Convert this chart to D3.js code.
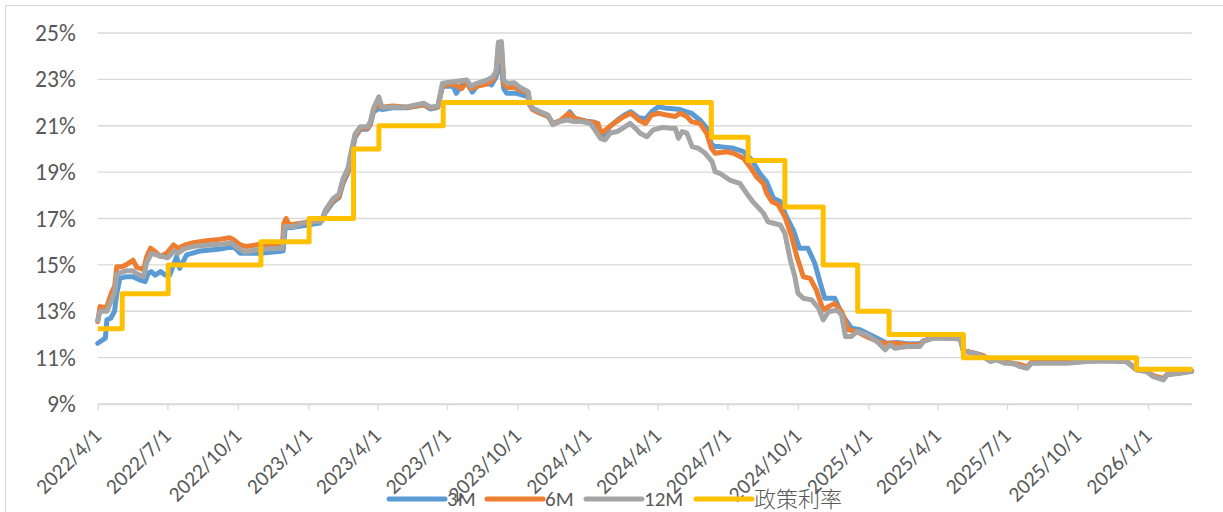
<!DOCTYPE html>
<html>
<head>
<meta charset="utf-8">
<script src="https://cdn.jsdelivr.net/npm/d3@7"></script>
<style>
  body { margin: 0; background: #fff; }
  svg { display: block; }
  .axis-text { font-family: Calibri, Carlito, Lato, sans-serif; fill: #595959; }
</style>
</head>
<body>
<div id="container1"></div>
<script>
// series values, [date, %]
const rate3M = [["2022-04-01",11.62],["2022-04-11",11.84],["2022-04-13",12.63],["2022-04-18",12.7],["2022-04-23",13.0],["2022-04-26",13.78],["2022-04-30",14.42],["2022-05-08",14.49],["2022-05-17",14.49],["2022-05-26",14.35],["2022-06-02",14.28],["2022-06-06",14.64],["2022-06-10",14.71],["2022-06-15",14.56],["2022-06-22",14.71],["2022-06-28",14.56],["2022-07-04",14.56],["2022-07-13",15.36],["2022-07-17",14.85],["2022-07-26",15.43],["2022-08-13",15.6],["2022-09-08",15.68],["2022-09-25",15.8],["2022-10-04",15.5],["2022-10-30",15.5],["2022-11-29",15.6],["2022-12-02",16.7],["2022-12-08",16.6],["2023-01-16",16.8],["2023-01-23",17.25],["2023-02-02",17.7],["2023-02-10",17.9],["2023-02-15",18.5],["2023-02-22",19.0],["2023-02-25",19.55],["2023-03-03",20.5],["2023-03-10",20.85],["2023-03-19",20.85],["2023-03-23",21.05],["2023-03-27",21.6],["2023-04-03",21.75],["2023-04-07",21.7],["2023-04-21",21.78],["2023-05-10",21.78],["2023-06-01",21.9],["2023-06-09",21.72],["2023-06-19",21.8],["2023-06-25",22.7],["2023-07-09",22.7],["2023-07-13",22.4],["2023-07-20",22.75],["2023-07-27",22.85],["2023-08-03",22.45],["2023-08-10",22.75],["2023-08-22",22.85],["2023-08-28",22.76],["2023-09-03",23.1],["2023-09-06",23.6],["2023-09-10",23.5],["2023-09-13",22.6],["2023-09-17",22.4],["2023-09-30",22.4],["2023-10-15",22.25],["2023-10-17",21.9],["2023-10-21",21.7],["2023-10-30",21.55],["2023-11-10",21.4],["2023-11-16",21.1],["2023-11-25",21.2],["2023-12-05",21.35],["2023-12-08",21.6],["2023-12-15",21.32],["2023-12-30",21.2],["2024-01-10",21.15],["2024-01-17",20.6],["2024-01-23",20.5],["2024-01-29",20.96],["2024-02-07",21.2],["2024-02-17",21.45],["2024-02-26",21.6],["2024-03-07",21.35],["2024-03-16",21.3],["2024-03-24",21.6],["2024-04-02",21.82],["2024-04-13",21.75],["2024-04-24",21.72],["2024-04-30",21.7],["2024-05-09",21.6],["2024-05-15",21.54],["2024-05-26",21.25],["2024-06-04",20.9],["2024-06-10",20.2],["2024-06-15",20.1],["2024-06-21",20.1],["2024-07-09",20.03],["2024-07-22",19.88],["2024-08-02",19.52],["2024-08-12",18.95],["2024-08-21",18.59],["2024-08-30",17.87],["2024-09-08",17.73],["2024-09-16",17.08],["2024-09-25",16.5],["2024-10-03",15.72],["2024-10-14",15.72],["2024-10-23",15.07],["2024-10-29",14.35],["2024-11-05",13.56],["2024-11-18",13.56],["2024-11-29",12.77],["2024-12-10",12.27],["2024-12-21",12.2],["2025-01-08",11.91],["2025-01-25",11.62],["2025-02-07",11.65],["2025-02-20",11.6],["2025-03-09",11.6],["2025-03-14",11.72],["2025-03-27",11.86],["2025-04-13",11.86],["2025-05-01",11.82],["2025-05-05",11.3],["2025-05-18",11.2],["2025-05-31",11.08],["2025-06-09",10.88],["2025-06-17",10.93],["2025-06-28",10.8],["2025-07-18",10.68],["2025-07-27",10.6],["2025-08-02",10.8],["2025-09-17",10.8],["2025-10-13",10.86],["2025-11-08",10.88],["2025-12-04",10.82],["2025-12-17",10.48],["2025-12-30",10.42],["2026-01-08",10.2],["2026-01-21",10.08],["2026-01-26",10.27],["2026-02-12",10.35],["2026-02-27",10.42]];

const rate6M = [["2022-04-01",12.55],["2022-04-04",13.2],["2022-04-11",13.15],["2022-04-14",13.3],["2022-04-19",13.8],["2022-04-23",14.06],["2022-04-26",14.92],["2022-05-02",14.92],["2022-05-08",15.0],["2022-05-17",15.2],["2022-05-22",14.9],["2022-05-31",14.8],["2022-06-04",15.36],["2022-06-09",15.72],["2022-06-15",15.57],["2022-06-22",15.36],["2022-06-30",15.5],["2022-07-09",15.86],["2022-07-15",15.72],["2022-07-24",15.86],["2022-08-04",15.96],["2022-08-21",16.04],["2022-09-07",16.1],["2022-09-20",16.17],["2022-09-25",16.1],["2022-10-04",15.86],["2022-10-12",15.79],["2022-10-30",15.89],["2022-11-21",15.86],["2022-11-28",15.86],["2022-11-30",16.8],["2022-12-03",17.0],["2022-12-07",16.72],["2022-12-22",16.8],["2023-01-03",16.86],["2023-01-18",16.9],["2023-01-23",17.3],["2023-02-02",17.78],["2023-02-10",17.95],["2023-02-15",18.6],["2023-02-22",19.1],["2023-02-25",19.65],["2023-03-03",20.55],["2023-03-10",20.9],["2023-03-19",20.9],["2023-03-23",21.1],["2023-03-27",21.68],["2023-04-03",21.95],["2023-04-07",21.8],["2023-04-21",21.85],["2023-05-10",21.8],["2023-06-01",21.9],["2023-06-09",21.78],["2023-06-19",21.82],["2023-06-25",22.75],["2023-07-09",22.8],["2023-07-20",22.6],["2023-07-27",22.9],["2023-08-01",22.6],["2023-08-09",22.7],["2023-08-22",22.8],["2023-08-30",23.0],["2023-09-03",23.3],["2023-09-06",24.4],["2023-09-10",24.4],["2023-09-13",22.8],["2023-09-18",22.65],["2023-09-27",22.65],["2023-10-04",22.55],["2023-10-15",22.4],["2023-10-17",21.9],["2023-10-21",21.7],["2023-10-30",21.55],["2023-11-10",21.4],["2023-11-16",21.1],["2023-11-25",21.2],["2023-12-07",21.54],["2023-12-15",21.32],["2023-12-30",21.18],["2024-01-14",21.1],["2024-01-18",20.67],["2024-01-29",20.96],["2024-02-07",21.18],["2024-02-17",21.4],["2024-02-26",21.54],["2024-03-07",21.25],["2024-03-16",21.1],["2024-03-24",21.46],["2024-04-02",21.54],["2024-04-13",21.46],["2024-04-24",21.4],["2024-04-30",21.54],["2024-05-09",21.4],["2024-05-15",21.18],["2024-05-26",21.1],["2024-06-04",20.67],["2024-06-10",20.03],["2024-06-15",19.81],["2024-06-30",19.88],["2024-07-09",19.81],["2024-07-22",19.6],["2024-07-31",19.2],["2024-08-08",18.8],["2024-08-17",18.5],["2024-08-21",18.1],["2024-08-28",17.73],["2024-09-05",17.6],["2024-09-14",17.08],["2024-09-23",16.2],["2024-09-29",15.43],["2024-10-08",14.49],["2024-10-17",14.42],["2024-10-25",13.92],["2024-11-03",13.05],["2024-11-10",13.2],["2024-11-18",13.34],["2024-11-27",12.98],["2024-12-06",12.2],["2024-12-17",12.12],["2025-01-03",11.84],["2025-01-20",11.62],["2025-02-07",11.62],["2025-02-20",11.55],["2025-03-09",11.55],["2025-03-14",11.72],["2025-03-27",11.86],["2025-04-13",11.86],["2025-05-01",11.82],["2025-05-05",11.3],["2025-05-18",11.2],["2025-05-31",11.08],["2025-06-09",10.9],["2025-06-17",10.95],["2025-06-28",10.82],["2025-07-18",10.7],["2025-07-27",10.6],["2025-08-02",10.8],["2025-09-17",10.8],["2025-10-13",10.86],["2025-11-08",10.88],["2025-12-04",10.85],["2025-12-17",10.5],["2025-12-30",10.42],["2026-01-08",10.22],["2026-01-21",10.1],["2026-01-26",10.28],["2026-02-12",10.35],["2026-02-27",10.42]];

const rate12M = [["2022-04-01",12.6],["2022-04-04",13.0],["2022-04-13",13.0],["2022-04-18",13.4],["2022-04-23",13.8],["2022-04-26",14.6],["2022-05-08",14.75],["2022-05-17",14.75],["2022-05-23",14.6],["2022-05-31",14.5],["2022-06-04",15.1],["2022-06-10",15.5],["2022-06-20",15.4],["2022-07-01",15.3],["2022-07-10",15.6],["2022-07-15",15.5],["2022-07-23",15.7],["2022-08-05",15.8],["2022-08-24",15.86],["2022-09-12",15.9],["2022-09-22",15.95],["2022-09-30",15.75],["2022-10-10",15.55],["2022-10-25",15.65],["2022-11-14",15.7],["2022-11-28",15.72],["2022-12-01",16.65],["2022-12-12",16.65],["2022-12-25",16.8],["2023-01-08",16.86],["2023-01-19",16.9],["2023-01-23",17.35],["2023-02-02",17.85],["2023-02-10",18.05],["2023-02-15",18.7],["2023-02-22",19.2],["2023-02-25",19.75],["2023-03-03",20.65],["2023-03-10",20.96],["2023-03-19",20.96],["2023-03-23",21.18],["2023-03-27",21.75],["2023-04-03",22.25],["2023-04-07",21.8],["2023-04-21",21.8],["2023-05-10",21.82],["2023-06-01",21.97],["2023-06-09",21.8],["2023-06-19",21.85],["2023-06-25",22.83],["2023-07-09",22.9],["2023-07-27",22.97],["2023-08-01",22.7],["2023-08-09",22.83],["2023-08-22",22.97],["2023-08-30",23.12],["2023-09-03",23.35],["2023-09-06",24.6],["2023-09-10",24.63],["2023-09-13",22.97],["2023-09-18",22.83],["2023-09-27",22.85],["2023-10-04",22.66],["2023-10-15",22.47],["2023-10-17",21.97],["2023-10-21",21.75],["2023-10-30",21.61],["2023-11-10",21.46],["2023-11-16",21.05],["2023-11-25",21.18],["2023-12-05",21.25],["2023-12-13",21.18],["2023-12-24",21.18],["2024-01-04",21.1],["2024-01-10",20.82],["2024-01-17",20.46],["2024-01-23",20.39],["2024-01-30",20.68],["2024-02-08",20.75],["2024-02-15",20.89],["2024-02-25",21.1],["2024-03-03",20.89],["2024-03-09",20.68],["2024-03-18",20.53],["2024-03-26",20.82],["2024-04-08",20.93],["2024-04-17",20.89],["2024-04-24",20.89],["2024-04-28",20.46],["2024-05-03",20.75],["2024-05-09",20.68],["2024-05-16",20.1],["2024-05-24",20.03],["2024-06-02",19.81],["2024-06-11",19.45],["2024-06-15",19.02],["2024-06-21",18.95],["2024-07-04",18.66],["2024-07-17",18.52],["2024-07-26",18.09],["2024-08-03",17.73],["2024-08-17",17.23],["2024-08-23",16.86],["2024-09-08",16.72],["2024-09-14",16.36],["2024-09-21",15.22],["2024-09-27",14.49],["2024-10-01",13.78],["2024-10-08",13.56],["2024-10-19",13.49],["2024-10-28",13.13],["2024-11-03",12.63],["2024-11-10",12.98],["2024-11-21",13.05],["2024-11-27",12.84],["2024-12-02",11.91],["2024-12-10",11.91],["2024-12-17",12.12],["2024-12-30",11.98],["2025-01-12",11.7],["2025-01-23",11.34],["2025-01-29",11.55],["2025-02-05",11.4],["2025-02-20",11.48],["2025-03-09",11.48],["2025-03-14",11.7],["2025-03-27",11.84],["2025-04-13",11.84],["2025-05-01",11.8],["2025-05-05",11.26],["2025-05-18",11.19],["2025-05-31",11.04],["2025-06-09",10.83],["2025-06-17",10.9],["2025-06-28",10.76],["2025-07-09",10.76],["2025-07-18",10.61],["2025-07-27",10.54],["2025-08-02",10.76],["2025-08-22",10.76],["2025-09-17",10.76],["2025-10-13",10.83],["2025-11-08",10.86],["2025-12-04",10.83],["2025-12-17",10.47],["2025-12-30",10.4],["2026-01-08",10.18],["2026-01-21",10.04],["2026-01-26",10.26],["2026-02-12",10.33],["2026-02-27",10.4]];

// policy rate: step changes
const policyDates = ["2022-04-01","2022-05-03","2022-07-02","2022-10-31","2023-01-02","2023-03-01","2023-04-03","2023-06-26","2024-06-10","2024-07-28","2024-09-14","2024-11-03","2024-12-18","2025-01-28","2025-05-05","2025-12-17","2026-02-28"];
const policyRate = [12.25,13.75,15,16,17,20,21,22,20.5,19.5,17.5,15,13,12,11,10.5,10.5];

const seriesNames = ["3M","6M","12M","政策利率"];
const seriesColors = ["#5B9BD5","#ED7D31","#A5A5A5","#FFC000"];
const yTicks = [9,11,13,15,17,19,21,23,25];
const xStart = "2022-04-01";
const xEnd = "2026-02-27";

(function () {
  const parseDate = d3.utcParse("%Y-%m-%d");
  const toPoints = arr => arr.map(d => ({ date: parseDate(d[0]), value: d[1] }));

  const width = 1223;
  const height = 512;
  const margin = { top: 33, right: 31.3, bottom: 108, left: 97.7 };

  const svg = d3.select("#container1")
    .append("svg")
    .attr("width", width)
    .attr("height", height);

  // chart border (top and left visible)
  svg.append("rect")
    .attr("x", 5.5).attr("y", 5.5)
    .attr("width", 1240).attr("height", 540)
    .attr("fill", "none")
    .attr("stroke", "#D9D9D9")
    .attr("stroke-width", 1.2);

  const x = d3.scaleUtc()
    .domain([parseDate(xStart), parseDate(xEnd)])
    .range([margin.left, width - margin.right]);

  const y = d3.scaleLinear()
    .domain([9, 25])
    .range([height - margin.bottom, margin.top]);

  // gridlines
  svg.append("g")
    .attr("class", "grid")
    .selectAll("line")
    .data(yTicks)
    .join("line")
    .attr("x1", margin.left)
    .attr("x2", width - margin.right)
    .attr("y1", d => y(d))
    .attr("y2", d => y(d))
    .attr("stroke", "#D9D9D9")
    .attr("stroke-width", 1.3);

  // y labels
  const yAxis = svg.append("g")
    .attr("transform", `translate(${margin.left - 22},0)`)
    .call(d3.axisLeft(y).tickValues(yTicks).tickFormat(d => d + "%").tickSize(0));
  yAxis.select(".domain").remove();
  yAxis.selectAll("text")
    .attr("class", "axis-text")
    .style("font-size", "23.5px")
    .attr("x", 0);

  // x axis with quarterly ticks
  const xAxis = svg.append("g")
    .attr("transform", `translate(0,${y(9)})`)
    .call(d3.axisBottom(x)
      .ticks(d3.utcMonth.every(3))
      .tickFormat(d3.utcFormat("%Y/%-m/%-d"))
      .tickSize(6)
      .tickSizeOuter(0));
  xAxis.select(".domain").attr("stroke", "#D9D9D9").attr("stroke-width", 1.3);
  xAxis.selectAll(".tick line").attr("stroke", "#D9D9D9").attr("stroke-width", 1.3);
  xAxis.selectAll(".tick text")
    .attr("class", "axis-text")
    .style("font-size", "21.5px")
    .attr("text-anchor", "end")
    .attr("dy", "0.35em")
    .attr("transform", "translate(-1,28) rotate(-45)")
    .attr("y", 0)
    .attr("x", 0);

  // data lines
  const line = d3.line()
    .x(d => x(d.date))
    .y(d => y(d.value));

  [rate3M, rate6M, rate12M].forEach((s, i) => {
    svg.append("path")
      .datum(toPoints(s))
      .attr("fill", "none")
      .attr("stroke", seriesColors[i])
      .attr("stroke-width", 5)
      .attr("stroke-linejoin", "round")
      .attr("stroke-linecap", "round")
      .attr("d", line);
  });

  const policyData = policyDates.map((d, i) => ({ date: parseDate(d), value: policyRate[i] }));
  svg.append("path")
    .datum(policyData)
    .attr("fill", "none")
    .attr("stroke", seriesColors[3])
    .attr("stroke-width", 5)
    .attr("stroke-linejoin", "round")
    .attr("d", line.curve(d3.curveStepAfter));

  // legend
  const legendX = [389, 487, 586, 696];
  const legend = svg.append("g").attr("transform", "translate(0,499)");
  seriesNames.forEach((name, i) => {
    legend.append("line")
      .attr("x1", legendX[i]).attr("x2", legendX[i] + 56)
      .attr("y1", 0).attr("y2", 0)
      .attr("stroke", seriesColors[i])
      .attr("stroke-width", 5)
      .attr("stroke-linecap", "round");
    legend.append("text")
      .attr("class", "axis-text")
      .attr("x", legendX[i] + 58)
      .attr("y", 0)
      .attr("dy", "0.35em")
      .style("font-size", i === 3 ? "22px" : "21px")
      .style("font-family", i === 3 ? "'Noto Sans CJK SC', sans-serif" : null)
      .style("font-weight", i === 3 ? 300 : null)
      .text(name);
  });
})()
</script>
</body>
</html>
